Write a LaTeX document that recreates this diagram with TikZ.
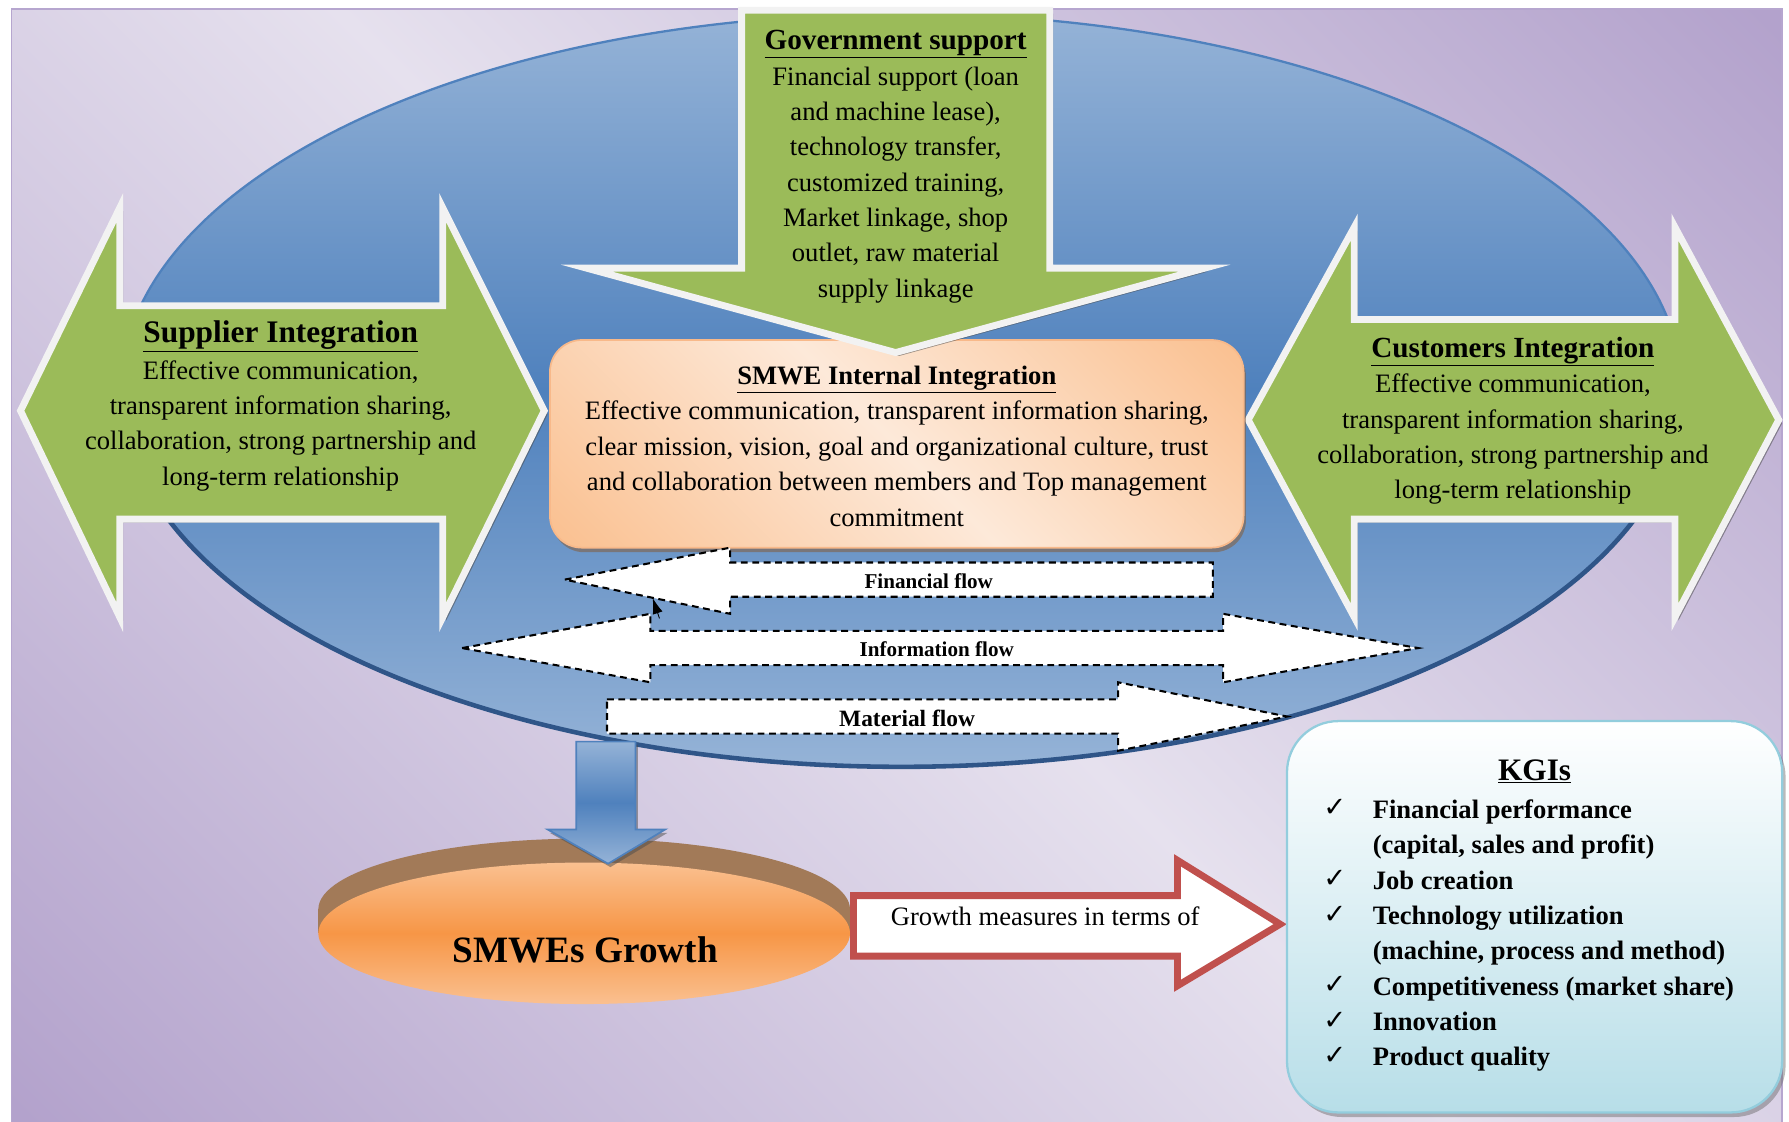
\documentclass[tikz,border=0pt]{standalone}
\usepackage{fontspec}
\setmainfont{Liberation Serif}
\newfontfamily\dejavu{DejaVu Sans}
\usetikzlibrary{shadows,arrows.meta}
\definecolor{bglight}{HTML}{E6E1EE}
\definecolor{bgdark}{HTML}{B3A2CC}
\definecolor{bgborder}{HTML}{B6A6CF}
\definecolor{elllight}{HTML}{95B3D7}
\definecolor{elldark}{HTML}{4F81BD}
\definecolor{ellrim}{HTML}{2F5588}
\definecolor{grn}{HTML}{9BBB59}
\definecolor{grnborder}{HTML}{F2F2F2}
\definecolor{peachlight}{HTML}{FDE9D9}
\definecolor{peachdark}{HTML}{FAC090}
\definecolor{peachborder}{HTML}{F8B98A}
\definecolor{orangemid}{HTML}{F79646}
\definecolor{brownrim}{HTML}{A27A58}
\definecolor{redb}{HTML}{C0504D}
\definecolor{kgidark}{HTML}{B7DEE8}
\definecolor{kgiborder}{HTML}{93CDDD}
\pgfdeclarehorizontalshading{bgshade}{100bp}{color(0bp)=(bgdark); color(15bp)=(bgdark); color(50bp)=(bglight); color(85bp)=(bgdark); color(100bp)=(bgdark)}
\pgfdeclarehorizontalshading{peachshade}{100bp}{color(0bp)=(peachdark); color(15bp)=(peachdark); color(50bp)=(peachlight); color(85bp)=(peachdark); color(100bp)=(peachdark)}
\begin{document}
\begin{tikzpicture}[x=1pt,y=-1pt,
  ttl/.style={font=\bfseries\fontsize{25.6}{31}\selectfont, inner sep=0pt, anchor=base},
  body/.style={font=\fontsize{23.3}{31}\selectfont, align=center, inner sep=0pt},
  flowlbl/.style={font=\bfseries\fontsize{18.5}{22}\selectfont, inner sep=0pt, anchor=base},
  greenarrow/.style={fill=grn, draw=grnborder, line width=6pt, line join=miter,
     drop shadow={shadow xshift=3pt, shadow yshift=-3pt, opacity=0.55, fill=black!70}},
  flowarrow/.style={fill=white, draw=black, line width=1.8pt, dash pattern=on 6pt off 4pt, line join=miter},
  chk/.style={font=\dejavu\fontsize{24}{28}\selectfont, inner sep=0pt, anchor=base}
]
\useasboundingbox (0,0) rectangle (1568,983);
\fill[white] (0,0) rectangle (1568,983);
\shade[shading=bgshade, shading angle=45] (10,8) rectangle (1562,990);
\draw[bgborder, line width=1.5pt] (10,8) rectangle (1562,990);

% big ellipse
\coordinate (ec) at (790,342);
\shade[top color=elllight, bottom color=elllight, middle color=elldark] (ec) ellipse [x radius=684pt, y radius=330pt];
\draw[elldark, line width=2pt] (ec) ellipse [x radius=684pt, y radius=330pt];
\draw[ellrim, line width=4pt, line cap=round] ([shift={(200:684pt and 330pt)}]ec) arc [start angle=200, end angle=340, x radius=684pt, y radius=330pt];

% supplier arrow
\path[greenarrow] (18,360) -- (105,182) -- (105,268) -- (388,268) -- (388,182) -- (477,360) -- (388,541) -- (388,455) -- (105,455) -- (105,541) -- cycle;
% customers arrow
\path[greenarrow] (1094,368) -- (1187,199) -- (1187,280) -- (1468,280) -- (1468,199) -- (1559,368) -- (1468,541) -- (1468,455) -- (1187,455) -- (1187,541) -- cycle;

% SMWE box
\path[shade, shading=peachshade, shading angle=45, draw=peachborder, line width=1.5pt, rounded corners=28pt,
  drop shadow={shadow xshift=2pt, shadow yshift=-4pt, opacity=0.6, fill=brownrim!80!black}] (482,298) rectangle (1090,480);

% government arrow
\path[greenarrow] (650,9) -- (920,9) -- (920,235) -- (1056,235) -- (785,309) -- (514,235) -- (650,235) -- cycle;

% flow arrows
\draw[flowarrow] (495,508) -- (640,480) -- (640,493) -- (1063,493) -- (1063,523) -- (640,523) -- (640,538) -- cycle;
\draw[flowarrow] (405,568) -- (570,538) -- (570,553) -- (1072,553) -- (1072,538) -- (1243,568) -- (1072,598) -- (1072,583) -- (570,583) -- (570,598) -- cycle;
\draw[flowarrow] (532,613) -- (980,613) -- (980,598) -- (1128,628) -- (980,658) -- (980,643) -- (532,643) -- cycle;
\coordinate (sa1) at (578,542);
\coordinate (sa2) at (572,524);
\draw[-{Latex[length=14pt,width=9pt]}, line width=0.8pt] (sa1) -- (sa2);

% disk
\fill[brownrim] (512,797) ellipse [x radius=233pt, y radius=62pt];
\fill[brownrim] (279,797) rectangle (745,818);
\shade[top color=peachdark, bottom color=peachdark, middle color=orangemid] (512,818) ellipse [x radius=233pt, y radius=62pt];

% blue down arrow
\path[shade, top color=elllight, bottom color=elllight, middle color=elldark, draw=elldark, line width=1.5pt, line join=miter,
  drop shadow={shadow xshift=2pt, shadow yshift=-3pt, opacity=0.5, fill=black!70}]
  (505,650) -- (557,650) -- (557,727) -- (583,727) -- (533,757) -- (480,727) -- (505,727) -- cycle;

% growth arrow
\draw[fill=white, draw=redb, line width=6pt, line join=miter] (748,785) -- (1032,785) -- (1032,754) -- (1122,810) -- (1032,864) -- (1032,838) -- (748,838) -- cycle;

% KGIs box
\path[shade, top color=white, bottom color=kgidark, draw=kgiborder, line width=2pt, rounded corners=45pt,
  drop shadow={shadow xshift=3pt, shadow yshift=-4pt, opacity=0.45, fill=black!60}] (1128,632) rectangle (1562,975);

% texts
\node[ttl] (govt) at (785,43) {\underline{Government support}};
\node[body] (govb) at (785,162) {Financial support (loan\\and machine lease),\\technology transfer,\\customized training,\\Market linkage, shop\\outlet, raw material\\supply linkage};
\node[ttl, font=\bfseries\fontsize{27.5}{31}\selectfont] (supt) at (246,300) {\underline{Supplier Integration}};
\node[body] (supb) at (246,373) {Effective communication,\\transparent information sharing,\\collaboration, strong partnership and\\long-term relationship};
\node[ttl] (cust) at (1326,313) {\underline{Customers Integration}};
\node[body] (cusb) at (1326,385) {Effective communication,\\transparent information sharing,\\collaboration, strong partnership and\\long-term relationship};
\node[ttl, font=\bfseries\fontsize{23.3}{31}\selectfont] (smwt) at (786,337) {\underline{SMWE Internal Integration}};
\node[body] (smwb) at (786,406.5) {Effective communication, transparent information sharing,\\clear mission, vision, goal and organizational culture, trust\\and collaboration between members and Top management\\commitment};

\node[flowlbl] (finl) at (814,516) {Financial flow};
\node[flowlbl] (infl) at (821,575) {Information flow};
\node[flowlbl, font=\bfseries\fontsize{20.5}{24}\selectfont] (matl) at (795,637) {Material flow};

\node[ttl, font=\bfseries\fontsize{32.6}{36}\selectfont] (grow) at (513,844) {SMWEs Growth};
\node[ttl, font=\fontsize{23.3}{31}\selectfont] (meas) at (916,811) {Growth measures in terms of};

\node[ttl, font=\bfseries\fontsize{27.4}{31}\selectfont] (kgit) at (1345,684) {\underline{KGIs}};
\node[body, font=\bfseries\fontsize{23.3}{31}\selectfont, align=left, anchor=west] (kgil) at (1203,820) {Financial performance\\(capital, sales and profit)\\Job creation\\Technology utilization\\(machine, process and method)\\Competitiveness (market share)\\Innovation\\Product quality};
\node[chk] (c1) at (1170,716) {✓};
\node[chk] (c2) at (1170,778) {✓};
\node[chk] (c3) at (1170,809) {✓};
\node[chk] (c4) at (1170,871) {✓};
\node[chk] (c5) at (1170,902) {✓};
\node[chk] (c6) at (1170,933) {✓};
\end{tikzpicture}
\end{document}
